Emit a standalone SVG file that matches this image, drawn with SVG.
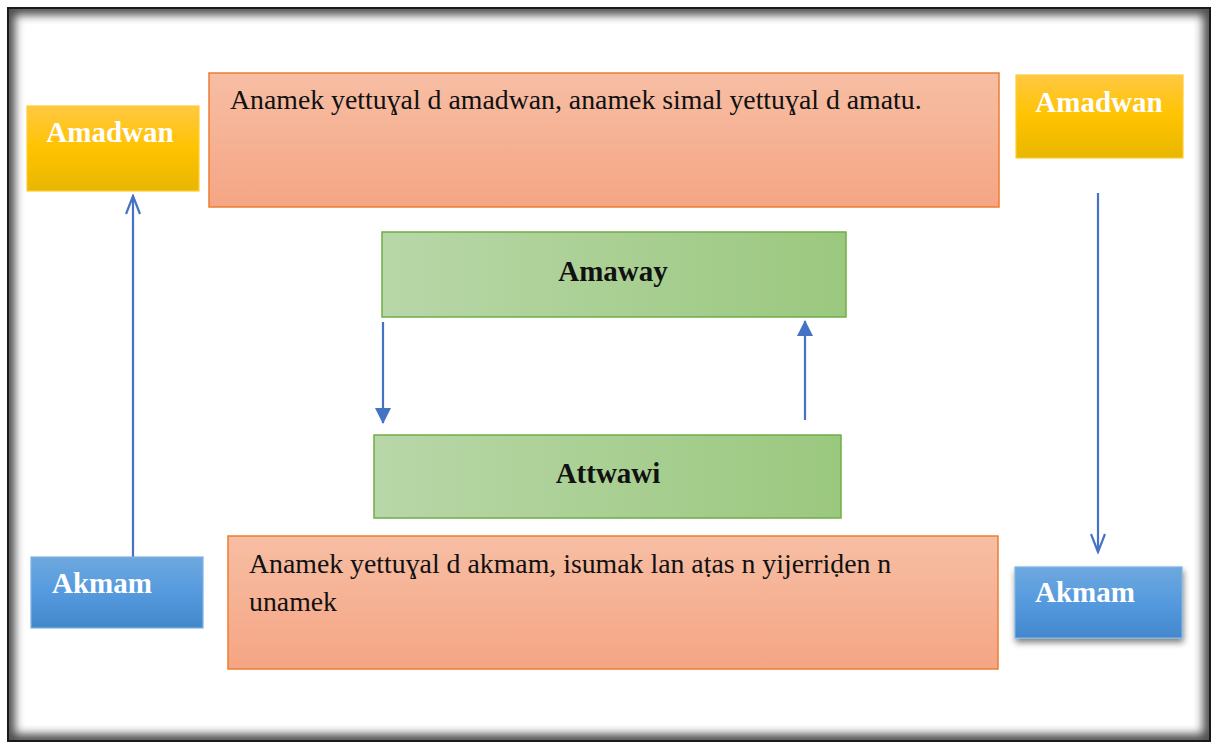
<svg xmlns="http://www.w3.org/2000/svg" width="1215" height="744" viewBox="0 0 1215 744">
<defs>
  <linearGradient id="gYellow" x1="0" y1="0" x2="0" y2="1">
    <stop offset="0" stop-color="#ffc842"/>
    <stop offset="0.5" stop-color="#ffc300"/>
    <stop offset="1" stop-color="#e8b700"/>
  </linearGradient>
  <linearGradient id="gOrange" x1="0" y1="0" x2="0" y2="1">
    <stop offset="0" stop-color="#f7bea4"/>
    <stop offset="1" stop-color="#f5a583"/>
  </linearGradient>
  <linearGradient id="gGreen" x1="0" y1="0" x2="1" y2="0">
    <stop offset="0" stop-color="#b8d7a8"/>
    <stop offset="1" stop-color="#9bc87f"/>
  </linearGradient>
  <linearGradient id="gBlue" x1="0" y1="0" x2="0" y2="1">
    <stop offset="0" stop-color="#6ea8de"/>
    <stop offset="0.5" stop-color="#559ade"/>
    <stop offset="1" stop-color="#4488cc"/>
  </linearGradient>
  <filter id="blur" x="-5%" y="-5%" width="110%" height="110%">
    <feGaussianBlur stdDeviation="5"/>
  </filter>
  <filter id="shadow" x="-20%" y="-20%" width="140%" height="160%">
    <feGaussianBlur in="SourceAlpha" stdDeviation="3"/>
    <feOffset dx="1" dy="4" result="b"/>
    <feComponentTransfer><feFuncA type="linear" slope="0.5"/></feComponentTransfer>
    <feMerge><feMergeNode/><feMergeNode in="SourceGraphic"/></feMerge>
  </filter>
  <clipPath id="frameClip"><rect x="8" y="8" width="1202" height="733"/></clipPath>
  <marker id="openArrow" viewBox="0 0 22 16" refX="20" refY="8" markerWidth="22" markerHeight="16" markerUnits="userSpaceOnUse" orient="auto">
    <path d="M2,1 L20,8 L2,15" fill="none" stroke="#4472c4" stroke-width="2.2"/>
  </marker>
  <marker id="solidArrow" viewBox="0 0 16 16" refX="15" refY="8" markerWidth="16" markerHeight="16" markerUnits="userSpaceOnUse" orient="auto">
    <path d="M0,0 L16,8 L0,16 Z" fill="#4472c4"/>
  </marker>
  <style>
    .label { font-family: "Liberation Serif", "DejaVu Serif", serif; font-weight: bold; font-size: 29px; }
    .white { fill: #ffffff; }
    .black { fill: #111111; }
    .body { font-family: "Liberation Serif", "DejaVu Serif", serif; font-size: 27.8px; fill: #111111; }
    .yellow { fill: url(#gYellow); stroke: #ffcc33; stroke-width: 1.2; }
    .orange { fill: url(#gOrange); stroke: #ed7d31; stroke-width: 1.5; }
    .green { fill: url(#gGreen); stroke: #70ad47; stroke-width: 1.5; }
    .blue { fill: url(#gBlue); stroke: #7fb2e5; stroke-width: 1.2; }
    .conn { stroke: #4472c4; stroke-width: 2.2; fill: none; }
  </style>
</defs>

<rect x="0" y="0" width="1215" height="744" fill="#ffffff"/>

<!-- outer frame with inner shadow -->
<g id="frame">
  <g clip-path="url(#frameClip)">
    <rect x="8" y="8" width="1202" height="733" fill="none" stroke="#000000" stroke-width="14" filter="url(#blur)" opacity="0.7"/>
  </g>
  <rect x="8" y="8" width="1202" height="733" fill="none" stroke="#1a1a1a" stroke-width="2"/>
</g>

<g id="connectors">
  <line class="conn" x1="133" y1="557" x2="133" y2="196" marker-end="url(#openArrow)"/>
  <line class="conn" x1="1098" y1="193" x2="1098" y2="552" marker-end="url(#openArrow)"/>
  <line class="conn" x1="383" y1="322" x2="383" y2="423" marker-end="url(#solidArrow)"/>
  <line class="conn" x1="805" y1="420" x2="805" y2="321" marker-end="url(#solidArrow)"/>
</g>

<g id="amadwan-left">
  <rect class="yellow" x="27" y="106" width="172" height="85"/>
  <text class="label white" x="110" y="142" text-anchor="middle">Amadwan</text>
</g>

<g id="amadwan-right">
  <rect class="yellow" x="1016" y="75" width="167" height="83"/>
  <text class="label white" x="1099" y="112" text-anchor="middle">Amadwan</text>
</g>

<g id="note-top">
  <rect class="orange" x="209" y="73" width="790" height="134"/>
  <text class="body" x="230" y="109">Anamek yettuɣal d amadwan, anamek simal yettuɣal d amatu.</text>
</g>

<g id="amaway">
  <rect class="green" x="382" y="232" width="464" height="85"/>
  <text class="label black" x="613" y="281" text-anchor="middle">Amaway</text>
</g>

<g id="attwawi">
  <rect class="green" x="374" y="435" width="467" height="83"/>
  <text class="label black" x="608" y="483" text-anchor="middle">Attwawi</text>
</g>

<g id="akmam-left">
  <rect class="blue" x="31" y="557" width="172" height="71"/>
  <text class="label white" x="52" y="593">Akmam</text>
</g>

<g id="akmam-right">
  <rect class="blue" x="1015" y="567" width="167" height="71" filter="url(#shadow)"/>
  <text class="label white" x="1035" y="602">Akmam</text>
</g>

<g id="note-bottom">
  <rect class="orange" x="228" y="536" width="770" height="133"/>
  <text class="body" x="249" y="573">Anamek yettuɣal d akmam, isumak lan aṭas n yijerriḍen n</text>
  <text class="body" x="249" y="611">unamek</text>
</g>
</svg>
